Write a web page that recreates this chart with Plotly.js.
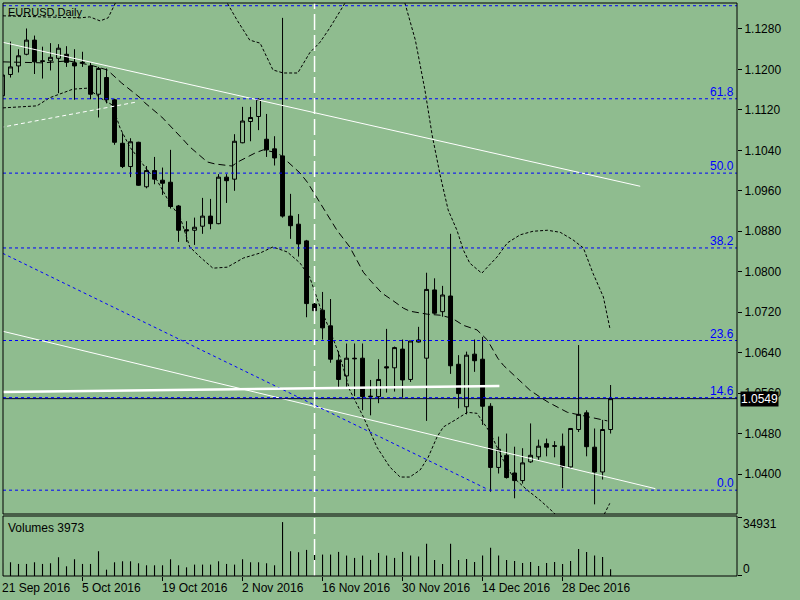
<!DOCTYPE html>
<html>
<head>
<meta charset="utf-8">
<script src="https://cdn.plot.ly/plotly-3.0.1.min.js"></script>
<style>
  html, body { margin: 0; padding: 0; background: #8FBC8F; }
  #chart { width: 800px; height: 600px; }
</style>
</head>
<body>
<div id="chart"></div>
<script>
// EURUSD daily bars, 21 Sep 2016 - 5 Jan 2017
const dates = [
  "2016-09-21", "2016-09-22", "2016-09-23", "2016-09-26", "2016-09-27", "2016-09-28", "2016-09-29", "2016-09-30",
  "2016-10-03", "2016-10-04", "2016-10-05", "2016-10-06", "2016-10-07", "2016-10-10", "2016-10-11", "2016-10-12",
  "2016-10-13", "2016-10-14", "2016-10-17", "2016-10-18", "2016-10-19", "2016-10-20", "2016-10-21", "2016-10-24",
  "2016-10-25", "2016-10-26", "2016-10-27", "2016-10-28", "2016-10-31", "2016-11-01", "2016-11-02", "2016-11-03",
  "2016-11-04", "2016-11-07", "2016-11-08", "2016-11-09", "2016-11-10", "2016-11-11", "2016-11-14", "2016-11-15",
  "2016-11-16", "2016-11-17", "2016-11-18", "2016-11-21", "2016-11-22", "2016-11-23", "2016-11-24", "2016-11-25",
  "2016-11-28", "2016-11-29", "2016-11-30", "2016-12-01", "2016-12-02", "2016-12-05", "2016-12-06", "2016-12-07",
  "2016-12-08", "2016-12-09", "2016-12-12", "2016-12-13", "2016-12-14", "2016-12-15", "2016-12-16", "2016-12-19",
  "2016-12-20", "2016-12-21", "2016-12-22", "2016-12-23", "2016-12-26", "2016-12-27", "2016-12-28", "2016-12-29",
  "2016-12-30", "2017-01-02", "2017-01-03", "2017-01-04", "2017-01-05"
];
const open = [
  1.1148, 1.1190, 1.1207, 1.1230, 1.1258, 1.1217, 1.1217, 1.1222, 1.1230, 1.1213,
  1.1213, 1.1207, 1.1151, 1.1184, 1.1140, 1.1054, 1.1008, 1.1056, 1.0968, 1.1000,
  1.0981, 1.0977, 1.0930, 1.0883, 1.0882, 1.0890, 1.0910, 1.0895, 1.0987, 1.0983,
  1.1055, 1.1097, 1.1107, 1.1062, 1.1043, 1.1029, 1.0910, 1.0894, 1.0861, 1.0736,
  1.0724, 1.0693, 1.0625, 1.0594, 1.0629, 1.0629, 1.0554, 1.0553, 1.0612, 1.0610,
  1.0647, 1.0587, 1.0661, 1.0629, 1.0764, 1.0721, 1.0752, 1.0617, 1.0533, 1.0637,
  1.0627, 1.0534, 1.0413, 1.0437, 1.0402, 1.0387, 1.0424, 1.0434, 1.0460, 1.0456,
  1.0455, 1.0414, 1.0488, 1.0521, 1.0453, 1.0404, 1.0488
];
const high = [
  1.1195, 1.1255, 1.1240, 1.1281, 1.1267, 1.1245, 1.1252, 1.1250, 1.1246, 1.1240,
  1.1235, 1.1213, 1.1205, 1.1202, 1.1142, 1.1074, 1.1064, 1.1057, 1.1009, 1.1027,
  1.1006, 1.1041, 1.0932, 1.0900, 1.0907, 1.0946, 1.0944, 1.0993, 1.0993, 1.1072,
  1.1126, 1.1126, 1.1143, 1.1112, 1.1068, 1.1302, 1.0954, 1.0914, 1.0863, 1.0741,
  1.0760, 1.0746, 1.0643, 1.0658, 1.0658, 1.0658, 1.0586, 1.0627, 1.0687, 1.0652,
  1.0666, 1.0663, 1.0691, 1.0798, 1.0787, 1.0772, 1.0875, 1.0635, 1.0642, 1.0666,
  1.0671, 1.0540, 1.0474, 1.0480, 1.0454, 1.0451, 1.0500, 1.0468, 1.0470, 1.0465,
  1.0480, 1.0491, 1.0655, 1.0526, 1.0490, 1.0507, 1.0576
];
const low = [
  1.1140, 1.1184, 1.1194, 1.1228, 1.1191, 1.1182, 1.1198, 1.1153, 1.1205, 1.1140,
  1.1205, 1.1141, 1.1105, 1.1133, 1.1051, 1.1005, 1.0987, 1.0970, 1.0965, 1.0973,
  1.0952, 1.0925, 1.0859, 1.0859, 1.0853, 1.0875, 1.0884, 1.0894, 1.0936, 1.0960,
  1.1054, 1.1058, 1.1080, 1.1027, 1.1010, 1.0907, 1.0865, 1.0830, 1.0710, 1.0712,
  1.0666, 1.0620, 1.0570, 1.0572, 1.0554, 1.0526, 1.0516, 1.0540, 1.0561, 1.0563,
  1.0551, 1.0582, 1.0660, 1.0505, 1.0716, 1.0711, 1.0598, 1.0530, 1.0518, 1.0602,
  1.0497, 1.0365, 1.0401, 1.0391, 1.0352, 1.0381, 1.0422, 1.0428, 1.0435, 1.0433,
  1.0372, 1.0411, 1.0483, 1.0435, 1.0340, 1.0389, 1.0480
];
const close = [
  1.1189, 1.1205, 1.1227, 1.1258, 1.1215, 1.1216, 1.1224, 1.1242, 1.1214, 1.1207,
  1.1214, 1.1151, 1.1202, 1.1140, 1.1056, 1.1008, 1.1057, 1.0971, 1.1000, 1.0983,
  1.0975, 1.0929, 1.0882, 1.0881, 1.0888, 1.0910, 1.0895, 1.0987, 1.0980, 1.1058,
  1.1098, 1.1105, 1.1141, 1.1041, 1.1025, 1.0910, 1.0891, 1.0855, 1.0737, 1.0723,
  1.0689, 1.0627, 1.0587, 1.0629, 1.0628, 1.0553, 1.0553, 1.0587, 1.0610, 1.0650,
  1.0586, 1.0663, 1.0665, 1.0765, 1.0718, 1.0754, 1.0614, 1.0559, 1.0635, 1.0624,
  1.0534, 1.0413, 1.0449, 1.0393, 1.0387, 1.0422, 1.0437, 1.0455, 1.0453, 1.0455,
  1.0414, 1.0490, 1.0518, 1.0454, 1.0404, 1.0488, 1.0549
];
const volume = [
  7600, 8180, 7190, 7190, 8180, 7190, 7590, 11180, 5790, 9980,
  7190, 7190, 14770, 3790, 8180, 8780, 8780, 7590, 6390, 6390,
  6390, 9980, 6390, 5190, 6790, 6790, 6790, 8780, 7190, 6790,
  9980, 8180, 8180, 7590, 6390, 32140, 14770, 14170, 15570, 13500,
  12770, 12770, 14370, 12180, 10780, 12180, 9580, 13770, 12180, 10780,
  14370, 12180, 11580, 19160, 9580, 7190, 19160, 9580, 10180, 8380,
  12180, 16770, 12180, 9580, 8980, 7780, 8380, 5990, 7780, 8380,
  7190, 8980, 16170, 14370, 12180, 11380, 3973
];
const volumeScaleMax = 34931;

// Bollinger bands (bar index, price)
const bbUpperX = [0.06, 9.7, 10.9, 12.2, 13.2, 14.1, 17.2, 24.7, 27.2, 28.1, 29.3, 30.9, 32.2, 33.8, 35.1, 36.9, 38.4, 39.7, 40.9, 42.8, 45.9, 49.1, 50.3, 51.6, 52.8, 53.7, 54.7, 55.7, 56.8, 57.6, 58.4, 59.9, 60.6, 61.8, 63.1, 64.7, 66.3, 68.1, 69.7, 71.3, 72.6, 73.8, 75.1, 75.9];
const bbUpperY = [1.1306, 1.1302, 1.1304, 1.1296, 1.1302, 1.1331, 1.1416, 1.1456, 1.1367, 1.1331, 1.1298, 1.1258, 1.1252, 1.1199, 1.1193, 1.1193, 1.1233, 1.1254, 1.1282, 1.1331, 1.1456, 1.1397, 1.1331, 1.1258, 1.1159, 1.1070, 1.0991, 1.0922, 1.0882, 1.0843, 1.0817, 1.0797, 1.0809, 1.0829, 1.0857, 1.0873, 1.0880, 1.0882, 1.0878, 1.0863, 1.0847, 1.0797, 1.0750, 1.0689];
const bbMidX = [0.06, 5.1, 8.2, 10.9, 13.1, 14.1, 14.9, 17.2, 17.8, 19.9, 20.9, 22.6, 23.4, 25.6, 26.6, 28.7, 29.4, 31.6, 32.6, 33.8, 34.7, 37.2, 38.1, 39.3, 41.8, 43.4, 45.1, 45.9, 47.4, 48.7, 50.1, 50.9, 53.1, 54.7, 56.2, 57.6, 59.3, 60.6, 61.9, 62.6, 64.3, 65.9, 67.2, 68.2, 70.6, 73.4, 75.6];
const bbMidY = [1.1215, 1.1213, 1.1217, 1.1209, 1.1199, 1.1185, 1.1173, 1.1144, 1.1134, 1.1106, 1.1090, 1.1061, 1.1047, 1.1017, 1.1013, 1.1009, 1.1017, 1.1035, 1.1041, 1.1037, 1.1031, 1.0995, 1.0977, 1.0946, 1.0882, 1.0849, 1.0799, 1.0784, 1.0758, 1.0744, 1.0728, 1.0722, 1.0716, 1.0714, 1.0708, 1.0694, 1.0685, 1.0665, 1.0629, 1.0615, 1.0590, 1.0566, 1.0552, 1.0542, 1.0522, 1.0513, 1.0505];
const bbLowerX = [0.06, 4.3, 5.9, 8.8, 10.6, 12.2, 13.7, 14.7, 15.9, 18.1, 19.3, 20.9, 22.2, 23.4, 24.7, 26.3, 28.1, 30.1, 32.2, 33.8, 35.6, 37.2, 38.4, 39.7, 40.9, 42.2, 43.4, 45.1, 46.8, 48.4, 49.7, 50.9, 52.2, 53.2, 54.3, 55.1, 56.6, 58.1, 59.3, 60.9, 62.6, 63.8, 65.6, 67.2, 68.8, 70.9, 73.4, 75.1, 75.9];
const bbLowerY = [1.1124, 1.1128, 1.1144, 1.1161, 1.1163, 1.1144, 1.1130, 1.1084, 1.1047, 1.1001, 1.0981, 1.0936, 1.0908, 1.0849, 1.0829, 1.0807, 1.0809, 1.0827, 1.0837, 1.0849, 1.0839, 1.0817, 1.0789, 1.0730, 1.0685, 1.0631, 1.0566, 1.0513, 1.0453, 1.0414, 1.0394, 1.0394, 1.0408, 1.0433, 1.0473, 1.0493, 1.0507, 1.0522, 1.0520, 1.0483, 1.0427, 1.0394, 1.0368, 1.0348, 1.0325, 1.0289, 1.0289, 1.0317, 1.0342];

// drawn objects
const trendTopX = [-2, 79.7],   trendTopY = [1.1261, 1.0969];
const trendLowX = [-2, 81.6],   trendLowY = [1.0690, 1.0371];
const trendDashX = [-2, 16.9],  trendDashY = [1.1080, 1.1136];
const channelX = [-2, 60.6],    channelY = [1.0852, 1.0370];
const levelLineX = [-2, 62.1],  levelLineY = [1.0562, 1.0574];
const markerDate = "2016-11-15";
const fibLevels = [1.0368, 1.0551, 1.0664, 1.0847, 1.0995, 1.1142];
const fibLabels = ["0.0", "14.6", "23.6", "38.2", "50.0", "61.8"];
const topLevel = 1.1326;
const bid = 1.0549;

const BG = "#8FBC8F";
const xRange = [0.0625, 91.8];
const months = ["Jan", "Feb", "Mar", "Apr", "May", "Jun", "Jul", "Aug", "Sep", "Oct", "Nov", "Dec"];
const idx = dates.map((d, i) => i);
const tickIdx = idx.filter(i => i % 10 === 0);

function fmtDate(d) {
  const p = d.split("-");
  return parseInt(p[2], 10) + " " + months[parseInt(p[1], 10) - 1] + " " + p[0];
}

function lineTrace(x, y, color, width, dash) {
  return {
    type: "scatter", mode: "lines", x: x, y: y, xaxis: "x", yaxis: "y",
    line: { color: color, width: width, dash: dash },
    hoverinfo: "skip", cliponaxis: true,
  };
}

const candles = {
  type: "candlestick",
  x: idx, open: open, high: high, low: low, close: close,
  xaxis: "x", yaxis: "y",
  increasing: { line: { color: "black", width: 1 }, fillcolor: BG },
  decreasing: { line: { color: "black", width: 1 }, fillcolor: "black" },
  whiskerwidth: 0,
  hoverinfo: "skip",
};

const volumes = {
  type: "bar", x: idx, y: volume, xaxis: "x", yaxis: "y2",
  width: 0.14, marker: { color: "black", line: { width: 0 } },
  hoverinfo: "skip",
};

const traces = [
  lineTrace(bbUpperX, bbUpperY, "black", 1, "3px,2px"),
  lineTrace(bbLowerX, bbLowerY, "black", 1, "3px,2px"),
  lineTrace(bbMidX, bbMidY, "black", 1, "7px,4px"),
  candles,
  lineTrace(trendTopX, trendTopY, "white", 1, "solid"),
  lineTrace(trendLowX, trendLowY, "white", 1, "solid"),
  lineTrace(trendDashX, trendDashY, "white", 1, "4px,3px"),
  lineTrace(channelX, channelY, "#0000FF", 1, "3px,3px"),
  lineTrace(levelLineX, levelLineY, "white", 2.5, "solid"),
  volumes,
];

// Fibonacci / horizontal lines and pane frames
let shapes = [
  { type: "line", xref: "paper", yref: "y", x0: 0, x1: 1, y0: bid, y1: bid,
    line: { color: "#000033", width: 1 } },
  { type: "line", xref: "paper", yref: "y", x0: 0, x1: 1, y0: topLevel, y1: topLevel,
    line: { color: "#0000FF", width: 1, dash: "3px,3px" } },
];
fibLevels.forEach(v => shapes.push({
  type: "line", xref: "paper", yref: "y", x0: 0, x1: 1, y0: v, y1: v,
  line: { color: "#0000FF", width: 1, dash: "3px,3px" },
}));
const mIdx = dates.indexOf(markerDate);
shapes.push({
  type: "line", xref: "x", yref: "paper", x0: mIdx, x1: mIdx, y0: 0, y1: 1,
  line: { color: "white", width: 1.5, dash: "16px,5px" },
});
shapes.push({ type: "rect", xref: "paper", yref: "y domain", x0: 0, x1: 1, y0: 0, y1: 1,
  line: { color: "black", width: 1 }, fillcolor: "rgba(0,0,0,0)" });
shapes.push({ type: "rect", xref: "paper", yref: "y2 domain", x0: 0, x1: 1, y0: 0, y1: 1,
  line: { color: "black", width: 1 }, fillcolor: "rgba(0,0,0,0)" });

let annotations = [
  { text: "EURUSD,Daily", xref: "paper", yref: "paper", x: 0, y: 1, xanchor: "left", yanchor: "top",
    xshift: 3, yshift: -1, showarrow: false, font: { size: 11, color: "black" } },
  { text: "Volumes " + volume[volume.length - 1], xref: "paper", yref: "y2 domain", x: 0, y: 1,
    xanchor: "left", yanchor: "top", xshift: 3, yshift: -3, showarrow: false, font: { size: 12, color: "black" } },
  { text: String(volumeScaleMax), xref: "paper", yref: "y2", x: 1, y: volumeScaleMax,
    xanchor: "left", yanchor: "top", xshift: 4, yshift: 2, showarrow: false, font: { size: 12, color: "black" } },
  { text: "0", xref: "paper", yref: "y2", x: 1, y: 0,
    xanchor: "left", yanchor: "bottom", xshift: 4, yshift: -2, showarrow: false, font: { size: 12, color: "black" } },
  { text: bid.toFixed(4), xref: "paper", yref: "y", x: 1, y: bid,
    xanchor: "left", yanchor: "middle", xshift: 3, showarrow: false,
    bgcolor: "black", borderpad: 0, font: { size: 12, color: "white" } },
];
fibLevels.forEach((v, i) => annotations.push({
  text: fibLabels[i], xref: "paper", yref: "y", x: 1, y: v, xanchor: "right", yanchor: "bottom",
  xshift: -1, yshift: -2, showarrow: false, font: { size: 12, color: "#0000FF" },
}));
tickIdx.forEach(i => annotations.push({
  text: fmtDate(dates[i]), xref: "x", yref: "paper", x: Math.max(i, xRange[0]), y: 0,
  xanchor: "left", yanchor: "top",
  xshift: -3, yshift: -3, showarrow: false, font: { size: 12, color: "black" },
}));

const layout = {
  width: 800, height: 600,
  margin: { l: 3, r: 63, t: 3, b: 24, pad: 0 },
  paper_bgcolor: BG, plot_bgcolor: BG,
  showlegend: false,
  font: { family: "Liberation Sans, Arial, sans-serif", size: 12, color: "black" },
  xaxis: {
    range: xRange, anchor: "y2",
    showgrid: false, zeroline: false, showline: false,
    tickvals: tickIdx, ticks: "outside", ticklen: 4, tickcolor: "black",
    showticklabels: false, rangeslider: { visible: false }, fixedrange: true,
  },
  yaxis: {
    domain: [0.1082, 1], range: [1.03209, 1.13314], side: "right", anchor: "x",
    tick0: 1.04, dtick: 0.008, tickformat: ".4f",
    ticks: "outside", ticklen: 4, tickcolor: "black",
    showgrid: false, zeroline: false, showline: false, fixedrange: true,
    tickfont: { size: 12, color: "black" },
  },
  yaxis2: {
    domain: [0, 0.1047], range: [0, 35766], side: "right", anchor: "x",
    tickvals: [0, volumeScaleMax], ticks: "outside", ticklen: 4, tickcolor: "black",
    showticklabels: false, showgrid: false, zeroline: false, showline: false, fixedrange: true,
  },
  shapes: shapes,
  annotations: annotations,
};

Plotly.newPlot("chart", traces, layout, { displayModeBar: false, staticPlot: true });
</script>
</body>
</html>
